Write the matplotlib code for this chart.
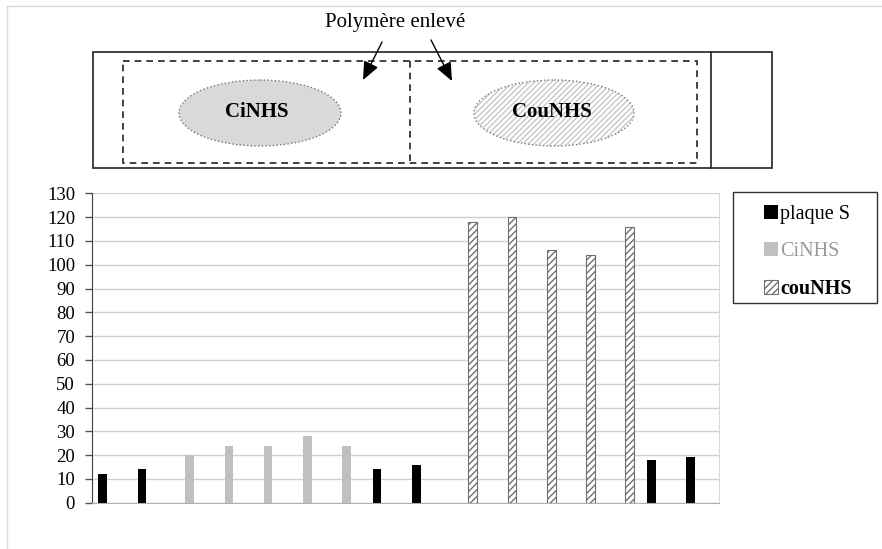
import matplotlib
matplotlib.use("Agg")
import matplotlib.pyplot as plt
from matplotlib.patches import Rectangle, Ellipse
from matplotlib.lines import Line2D
import numpy as np

plt.rcParams["font.family"] = ["Liberation Serif", "DejaVu Serif"]
plt.rcParams["hatch.linewidth"] = 1.0

# 16 sample positions along the plate, one series per spot type
positions = np.arange(16)
nan = np.nan
plaque_s = [12, 14, nan, nan, nan, nan, nan, 14, 16, nan, nan, nan, nan, nan, 18, 19]
cinhs = [nan, nan, 20, 24, 24, 28, 24, nan, nan, nan, nan, nan, nan, nan, nan, nan]
counhs = [nan, nan, nan, nan, nan, nan, nan, nan, nan, 118, 120, 106, 104, 116, nan, nan]
series_labels = ["plaque S", "CiNHS", "couNHS"]
yticks = list(range(0, 131, 10))

W, H = 882, 549
fig = plt.figure(figsize=(W / 100, H / 100), dpi=100)

# main bar axes (pixel box -> figure fraction)
x0, x1, ytop, ybot = 91.7, 719.0, 193.3, 502.7
ax = fig.add_axes([x0 / W, 1 - ybot / H, (x1 - x0) / W, (ybot - ytop) / H])

bw = 0.22
b1 = ax.bar(positions - bw, plaque_s, bw, color="black", linewidth=0, label=series_labels[0])
b2 = ax.bar(positions, cinhs, bw, color="#c0c0c0", linewidth=0, label=series_labels[1])
b3 = ax.bar(positions + bw, counhs, bw, color="white", edgecolor="#707070",
            hatch="/////", linewidth=0.8, label=series_labels[2])

ax.set_xlim(-0.5, 15.5)
ax.set_ylim(0, 130)
ax.set_yticks(yticks)
ax.set_xticks([])
ax.tick_params(axis="y", length=5, width=1, color="#555555", pad=7, labelsize=13.5)
ax.grid(axis="y", color="#d0d0d0", linewidth=1)
ax.set_axisbelow(True)
ax.spines["top"].set_visible(False)
ax.spines["left"].set_color("#404040")
ax.spines["bottom"].set_color("#b0b0b0")
ax.spines["right"].set_color("#d8d8d8")

# overlay in pixel coordinates for the plate sketch and frames
ov = fig.add_axes([0, 0, 1, 1], zorder=5)
ov.set_xlim(0, W)
ov.set_ylim(H, 0)
ov.axis("off")
ov.patch.set_alpha(0)

# faint image border
ov.add_line(Line2D([7.3, W], [6, 6], color="#d9d9d9", lw=1))
ov.add_line(Line2D([7.3, 7.3], [6, H], color="#d9d9d9", lw=1))

# plate sketch
ov.add_patch(Rectangle((92.7, 51.7), 771.7 - 92.7, 167.7 - 51.7, fill=False, ec="#222222", lw=1.2))
ov.add_line(Line2D([711, 711], [51.7, 167.7], color="#222222", lw=1.2))
ov.add_patch(Rectangle((122.7, 60.7), 696.7 - 122.7, 163.3 - 60.7, fill=False, ec="#222222",
                       lw=1.2, ls=(0, (4, 3))))
ov.add_line(Line2D([410, 410], [60.7, 163.3], color="#222222", lw=1.2, ls=(0, (4, 3))))

ov.add_patch(Ellipse((260, 113), 162, 66, fc="#d9d9d9", ec="#777777", lw=1, ls=":"))
ov.add_patch(Ellipse((554, 113), 160, 66, fc="white", ec="#c8c8c8", lw=0, hatch="//////"))
ov.add_patch(Ellipse((554, 113), 160, 66, fill=False, ec="#777777", lw=1, ls=":"))
ov.text(257, 112, "CiNHS", ha="center", va="center", fontsize=15, fontweight="bold")
ov.text(552, 112, "CouNHS", ha="center", va="center", fontsize=15, fontweight="bold")

ov.text(395, 23, "Polymère enlevé", ha="center", va="center", fontsize=15)
arrow = dict(arrowstyle="-|>,head_length=0.7,head_width=0.3", color="black", lw=1,
             mutation_scale=16, shrinkA=0, shrinkB=0)
ov.annotate("", xy=(363, 80), xytext=(382, 42), arrowprops=arrow)
ov.annotate("", xy=(452, 81), xytext=(431, 40), arrowprops=arrow)

# legend frame + entries
ov.add_patch(Rectangle((732.7, 192.3), 876.7 - 732.7, 302.7 - 192.3, fill=False, ec="#333333", lw=1))
leg = ax.legend(handles=[b1, b2, b3], loc="upper left",
                bbox_to_anchor=(764 / W, 1 - 205 / H), bbox_transform=fig.transFigure,
                frameon=False, fontsize=14.5, handlelength=0.7, handleheight=0.7,
                handletextpad=0.1, labelspacing=0.88, borderpad=0, borderaxespad=0)
texts = leg.get_texts()
texts[1].set_color("#999999")
texts[2].set_fontweight("bold")

fig.savefig("out.png", dpi=100)
